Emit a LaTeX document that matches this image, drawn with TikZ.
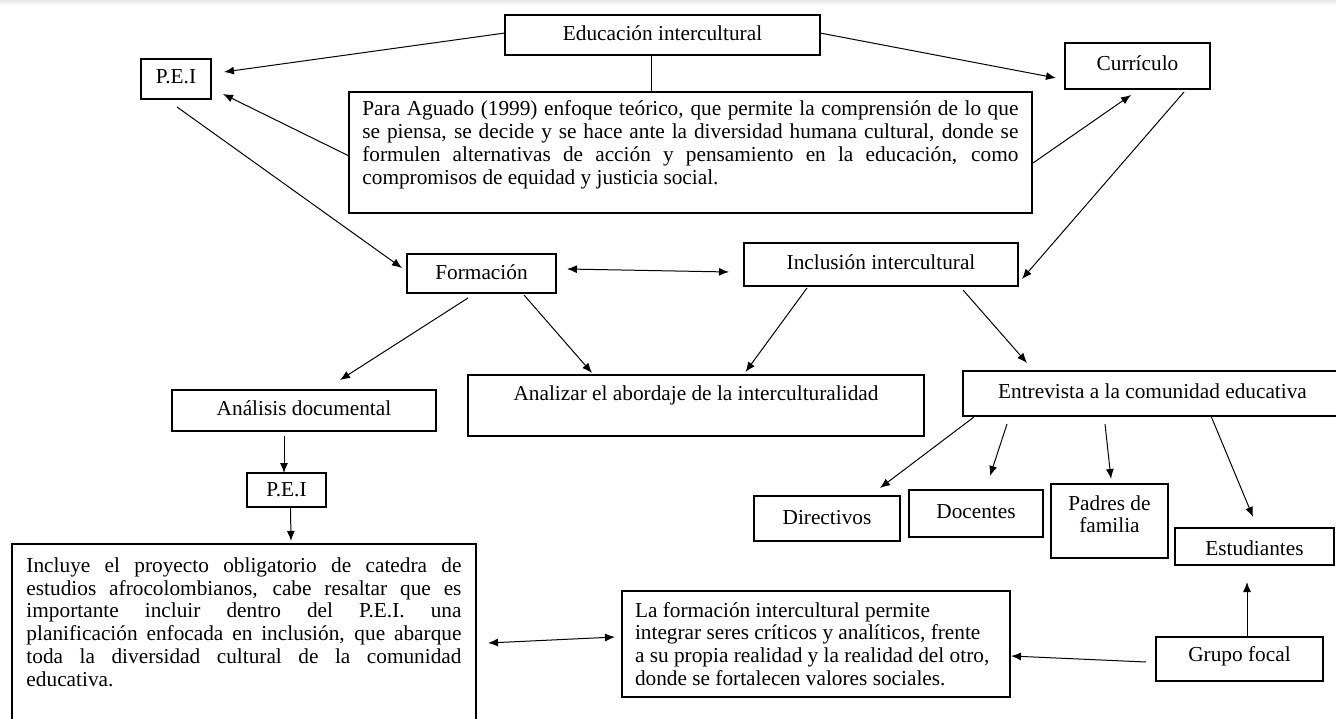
\documentclass[tikz,border=0pt]{standalone}
\usepackage{fontspec}
\setmainfont{Liberation Serif}
\usetikzlibrary{calc,arrows.meta}
\newcommand\jline[1]{\makebox[\linewidth][s]{#1}}
\begin{document}
\begin{tikzpicture}[x=1pt,y=-1pt,
  font=\fontsize{21.3}{22.7}\selectfont,
  box/.style={draw=black, line width=1.3pt, inner sep=0pt, outer sep=0pt, anchor=north west,
              text height=15pt, text depth=5pt, align=center},
  txt/.style={anchor=base west, inner sep=0pt, outer sep=0pt},
  arr/.style={line width=1pt, -{Latex[length=10pt,width=8pt]}},
  dbl/.style={line width=1pt, {Latex[length=10pt,width=8pt]}-{Latex[length=10pt,width=8pt]}},
  plain/.style={line width=1pt}]
\useasboundingbox (0,0) rectangle (1336,719);
\begin{scope}
\clip (0,0) rectangle (1336,719);
\shade[top color=gray!18, bottom color=white] (0,0) rectangle (1336,6);

% boxes
\node[box, minimum width=315pt, minimum height=40pt, text height=17pt] (edu) at (505,15) {Educación intercultural};
\node[box, minimum width=70pt, minimum height=40pt] (pei1) at (141,59) {P.E.I};
\node[box, minimum width=145pt, minimum height=46pt] (curr) at (1065,43) {Currículo};
\node[box, minimum width=683pt, minimum height=121pt] (aguado) at (349,92) {};
\node[box, minimum width=149pt, minimum height=39pt, text height=17pt] (form) at (407,254) {Formación};
\node[box, minimum width=274pt, minimum height=43pt] (incl) at (744,243) {Inclusión intercultural};
\node[box, minimum width=264pt, minimum height=41pt] (anadoc) at (172,390) {Análisis documental};
\node[box, minimum width=456pt, minimum height=61pt, text depth=26pt] (analizar) at (468,375) {Analizar el abordaje de la interculturalidad};
\node[box, minimum width=379pt, minimum height=45pt] (entrev) at (963,371) {Entrevista a la comunidad educativa};
\node[box, minimum width=146pt, minimum height=45pt, text height=17pt] (directivos) at (754,496) {Directivos};
\node[box, minimum width=134pt, minimum height=47pt] (docentes) at (909,490) {Docentes};
\node[box, minimum width=117pt, minimum height=74pt] (padres) at (1051,484) {};
\node[box, minimum width=159pt, minimum height=37pt, text height=23pt] (estud) at (1175,528) {Estudiantes};
\node[box, minimum width=167pt, minimum height=44pt, text depth=11pt] (grupo) at (1156,637) {Grupo focal};
\node[box, minimum width=79pt, minimum height=34pt, text height=17pt] (pei2) at (247,473) {P.E.I};
\node[box, minimum width=464pt, minimum height=200pt] (incluye) at (12,544) {};
\node[box, minimum width=388pt, minimum height=106pt] (laform) at (622,591) {};

% texts of the larger boxes
\node[txt] (aguadotxt) at (362.4,116) {\parbox[t]{656pt}{%
\jline{Para Aguado (1999) enfoque teórico, que permite la comprensión de lo que}\\
\jline{se piensa, se decide y se hace ante la diversidad humana cultural, donde se}\\
\jline{formulen alternativas de acción y pensamiento en la educación, como}\\
compromisos de equidad y justicia social.}};
\node[txt] (incluyetxt) at (26.5,572.5) {\parbox[t]{435pt}{%
\jline{Incluye el proyecto obligatorio de catedra de}\\
\jline{estudios afrocolombianos, cabe resaltar que es}\\
\jline{importante incluir dentro del P.E.I. una}\\
\jline{planificación enfocada en inclusión, que abarque}\\
\jline{toda la diversidad cultural de la comunidad}\\
educativa.}};
\node[txt] (laformtxt) at (635,617) {\parbox[t]{370pt}{%
La formación intercultural permite\\
integrar seres críticos y analíticos, frente\\
a su propia realidad y la realidad del otro,\\
donde se fortalecen valores sociales.}};
\node[anchor=base, inner sep=0pt] (padrestxt) at (1109.5,510) {\parbox[t]{112pt}{\centering Padres de\\familia}};

% connectors
\draw[arr] ($(edu.west)+(0,-2)$) -- ($(pei1.east)+(13,-7)$);
\coordinate (e1) at ($(edu.south)+(-11,0)$);
\draw[plain] (e1) -- (e1 |- aguado.north);
\draw[arr] ($(aguado.west)+(0,3.5)$) -- ($(pei1.south east)+(12,-5)$);
\draw[arr] ($(pei1.south)+(1,8)$) -- ($(form.west)+(-5,-5.5)$);
\draw[arr] ($(edu.east)+(0,-2)$) -- ($(curr.west)+(-9,12)$);
\draw[arr] ($(aguado.east)+(1,10.5)$) -- ($(curr.south)+(-6.5,6)$);
\draw[arr] ($(curr.south east)+(-26,3)$) -- ($(incl.east)+(4,14.5)$);
\draw[dbl] ($(form.east)+(11,-4.5)$) -- ($(incl.west)+(-15,7.5)$);
\draw[arr] ($(form.south)+(-13.5,5)$) -- ($(anadoc.north)+(36,-10)$);
\draw[arr] ($(form.south)+(42.5,2)$) -- ($(analizar.north)+(-104,-2)$);
\draw[arr] ($(incl.south)+(-74,2)$) -- ($(analizar.north)+(49.5,-3)$);
\draw[arr] ($(incl.south)+(82,4)$) -- ($(entrev.north west)+(64,-8)$);
\draw[arr] ($(anadoc.south)+(-20,5)$) -- ($(pei2.north)+(-2.5,0)$);
\draw[arr] ($(pei2.south)+(4,0)$) -- ($(incluye.north west)+(279,-3)$);
\draw[arr] ($(entrev.south west)+(11,1)$) -- ($(directivos.north east)+(-20,-8)$);
\draw[arr] ($(entrev.south west)+(44,8)$) -- ($(docentes.north)+(14,-14)$);
\draw[arr] ($(entrev.south west)+(142,8)$) -- ($(padres.north)+(1.5,-5)$);
\draw[arr] ($(entrev.south west)+(248,0)$) -- ($(estud.north)+(-1.5,-11)$);
\draw[arr] ($(grupo.north)+(7.5,0)$) -- ($(estud.south)+(-7.5,17)$);
\draw[arr] ($(grupo.west)+(-10,3)$) -- ($(laform.east)+(1,12)$);
\draw[dbl] ($(incluye.north east)+(12,99)$) -- ($(laform.west)+(-7,-7)$);
\end{scope}
\end{tikzpicture}
\end{document}
